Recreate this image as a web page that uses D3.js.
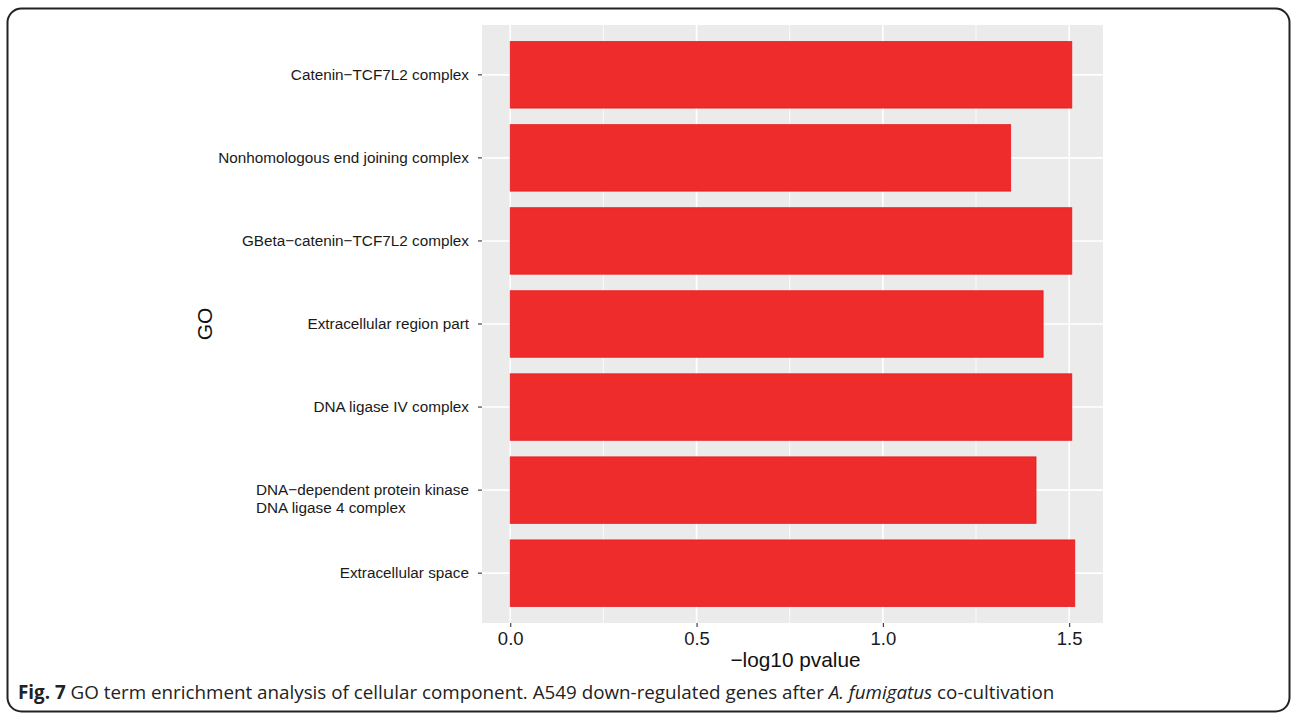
<!DOCTYPE html>
<html>
<head>
<meta charset="utf-8">
<script src="https://cdn.jsdelivr.net/npm/d3@7"></script>
<style>
  html, body { margin: 0; padding: 0; background: #ffffff; }
  svg { display: block; }
</style>
</head>
<body>
<svg id="chart" width="1292" height="715"></svg>
<script>
// GO cellular-component terms, top to bottom, with their enrichment scores
const terms = [
  ["Catenin\u2212TCF7L2 complex"],
  ["Nonhomologous end joining complex"],
  ["GBeta\u2212catenin\u2212TCF7L2 complex"],
  ["Extracellular region part"],
  ["DNA ligase IV complex"],
  ["DNA\u2212dependent protein kinase", "DNA ligase 4 complex"],
  ["Extracellular space"]
];
const termIds = terms.map(t => t.join(" "));
const negLog10P = [1.507, 1.343, 1.507, 1.430, 1.507, 1.411, 1.515];
const xTicks = [0, 0.5, 1.0, 1.5];
const xMinorTicks = [0.25, 0.75, 1.25];
const xTitle = "\u2212log10 pvalue";
const yTitle = "GO";

const svg = d3.select("#chart");

// outer frame
svg.append("rect")
  .attr("x", 7.5).attr("y", 8.5)
  .attr("width", 1282).attr("height", 703)
  .attr("rx", 14).attr("ry", 14)
  .attr("fill", "#fff").attr("stroke", "#222").attr("stroke-width", 2);

const panel = { left: 482, right: 1103, top: 25, bottom: 623 };

const maxV = d3.max(negLog10P);
const x = d3.scaleLinear()
  .domain([-0.05 * maxV, maxV * 1.05])
  .range([panel.left, panel.right]);

const y = d3.scaleBand()
  .domain(termIds)
  .range([panel.top, panel.bottom])
  .paddingInner(0.2)
  .paddingOuter(0.2);

// panel background
svg.append("rect")
  .attr("x", panel.left).attr("y", panel.top)
  .attr("width", panel.right - panel.left)
  .attr("height", panel.bottom - panel.top)
  .attr("fill", "#ebebeb");

// grid lines
const grid = svg.append("g");
grid.selectAll("line.minor").data(xMinorTicks).join("line")
  .attr("x1", d => x(d)).attr("x2", d => x(d))
  .attr("y1", panel.top).attr("y2", panel.bottom)
  .attr("stroke", "#fff").attr("stroke-width", 0.8);
grid.selectAll("line.majx").data(xTicks).join("line")
  .attr("x1", d => x(d)).attr("x2", d => x(d))
  .attr("y1", panel.top).attr("y2", panel.bottom)
  .attr("stroke", "#fff").attr("stroke-width", 1.6);
grid.selectAll("line.majy").data(termIds).join("line")
  .attr("x1", panel.left).attr("x2", panel.right)
  .attr("y1", d => y(d) + y.bandwidth() / 2).attr("y2", d => y(d) + y.bandwidth() / 2)
  .attr("stroke", "#fff").attr("stroke-width", 1.6);

// bars
svg.append("g").selectAll("rect").data(termIds).join("rect")
  .attr("x", x(0))
  .attr("y", d => y(d))
  .attr("width", (d, i) => x(negLog10P[i]) - x(0))
  .attr("height", y.bandwidth())
  .attr("fill", "#ee2c2c")
  .attr("stroke", "#e8191c").attr("stroke-width", 0.8);

// x axis
const xAxis = svg.append("g")
  .attr("transform", `translate(0,${panel.bottom})`)
  .call(d3.axisBottom(x).tickValues(xTicks).tickFormat(d3.format(".1f")).tickSize(4).tickPadding(5));
xAxis.select(".domain").remove();
xAxis.selectAll(".tick line").attr("stroke", "#333").attr("stroke-width", 1.1);
xAxis.selectAll(".tick text")
  .attr("fill", "#1a1a1a")
  .style("font-family", "'Liberation Sans', Arial, sans-serif")
  .style("font-size", "18.5px");

// y axis
const yAxis = svg.append("g")
  .attr("transform", `translate(${panel.left},0)`)
  .call(d3.axisLeft(y).tickSize(4).tickPadding(9));
yAxis.select(".domain").remove();
yAxis.selectAll(".tick line").attr("stroke", "#333").attr("stroke-width", 1.1);
yAxis.selectAll(".tick text")
  .attr("fill", "#1a1a1a")
  .style("font-family", "'Liberation Sans', Arial, sans-serif")
  .style("font-size", "15.3px")
  .each(function(d, i) {
    const lines = terms[i];
    const t = d3.select(this);
    if (lines.length > 1) {
      t.text(null);
      // multi-line label: lines left-aligned, first line on the tick
      const widths = lines.map(s => {
        const tmp = t.append("tspan").text(s);
        const w = tmp.node().getComputedTextLength();
        tmp.remove();
        return w;
      });
      const wMax = d3.max(widths);
      const x0 = -13 - wMax;
      t.attr("text-anchor", "start");
      lines.forEach((s, k) => {
        t.append("tspan").attr("x", x0).attr("dy", k === 0 ? "0.32em" : "1.2em").text(s);
      });
      t.attr("dy", null);
    }
  });

// axis titles
svg.append("text")
  .attr("x", (panel.left + panel.right) / 2 + 3)
  .attr("y", 667)
  .attr("text-anchor", "middle")
  .attr("fill", "#111")
  .style("font-family", "'Liberation Sans', Arial, sans-serif")
  .style("font-size", "20.8px")
  .text(xTitle);

svg.append("text")
  .attr("transform", `translate(212,${(panel.top + panel.bottom) / 2}) rotate(-90)`)
  .attr("text-anchor", "middle")
  .attr("fill", "#111")
  .style("font-family", "'Liberation Sans', Arial, sans-serif")
  .style("font-size", "21px")
  .text(yTitle);

// caption
const cap = svg.append("text")
  .attr("x", 18).attr("y", 699)
  .attr("fill", "#222")
  .style("font-family", "'Open Sans', 'Noto Sans', sans-serif")
  .style("font-size", "17px");
cap.append("tspan").attr("font-weight", "bold").text("Fig. 7");
cap.append("tspan").text(" GO term enrichment analysis of cellular component. A549 down-regulated genes after ");
cap.append("tspan").attr("font-style", "italic").text("A. fumigatus");
cap.append("tspan").text(" co-cultivation");
// fit caption width to the frame text block
const capW = cap.node().getComputedTextLength();
const targetW = 1037;
cap.style("font-size", (17 * targetW / capW).toFixed(2) + "px");
</script>
</body>
</html>
